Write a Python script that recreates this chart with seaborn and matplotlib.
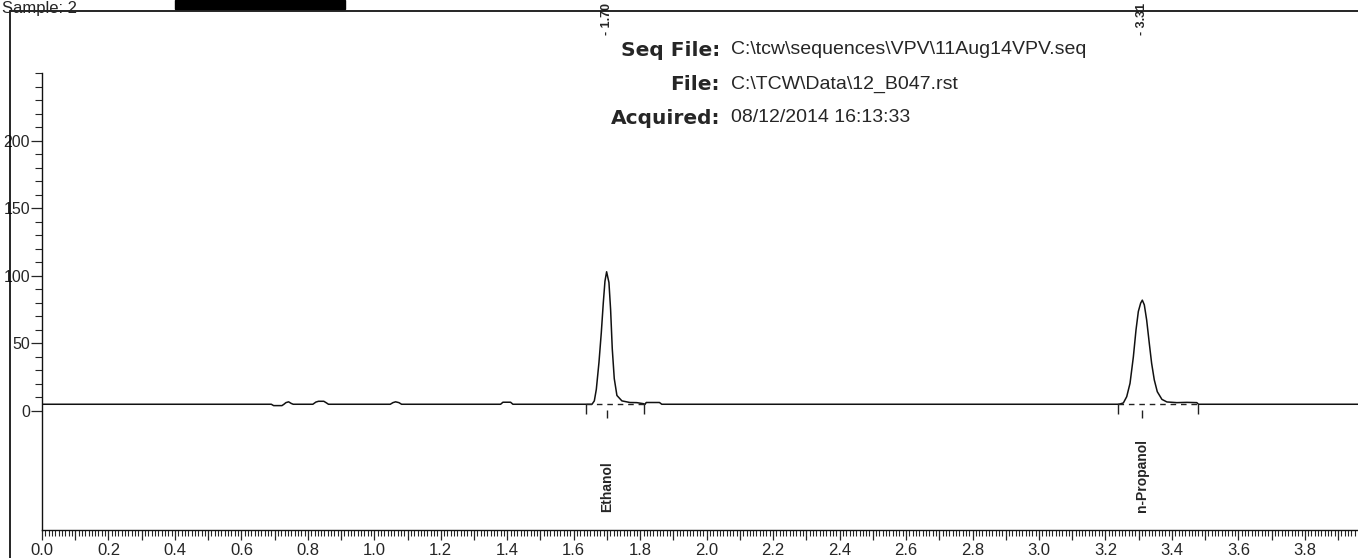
import numpy as np
import matplotlib
matplotlib.use('Agg')
import matplotlib.pyplot as plt
import matplotlib.transforms as mtransforms
from matplotlib.lines import Line2D
from matplotlib.patches import Rectangle
import seaborn as sns

# detector trace (minutes, mV)
trace_time = [0.000, 0.690, 0.697, 0.722, 0.728, 0.734, 0.742, 0.750, 0.756,
              0.815, 0.824, 0.832, 0.848, 0.856, 0.862,
              1.048, 1.056, 1.064, 1.074, 1.082,
              1.380, 1.387, 1.410, 1.417, 1.655,
              1.662, 1.668, 1.676, 1.683, 1.689, 1.694, 1.699, 1.706, 1.711,
              1.716, 1.722, 1.730, 1.745, 1.769, 1.790, 1.810, 1.815, 1.818,
              1.858, 1.865,
              3.236, 3.244, 3.254, 3.264, 3.274, 3.284, 3.292, 3.299, 3.306,
              3.311, 3.317, 3.324, 3.332, 3.339, 3.347, 3.356, 3.370, 3.385,
              3.415, 3.445, 3.475, 3.480, 3.960]
trace_signal = [5.0, 5.0, 4.0, 4.0, 5.0, 6.2, 6.8, 5.6, 5.0,
                5.0, 6.6, 7.2, 7.2, 6.0, 5.0,
                5.0, 6.2, 6.8, 6.2, 5.0,
                5.0, 6.5, 6.5, 5.0, 5.0,
                7.5, 16.0, 36.0, 58.0, 80.0, 96.0, 103.0, 95.0, 75.0,
                46.0, 24.0, 11.5, 7.5, 6.3, 6.2, 5.4, 5.0, 6.3,
                6.3, 5.0,
                5.0, 5.2, 6.0, 10.6, 20.5, 40.0, 60.0, 73.6, 79.8,
                82.0, 78.5, 67.4, 50.0, 35.3, 23.0, 14.3, 8.6, 6.7,
                6.2, 6.4, 6.2, 5.0, 5.0]

peak_names = ['Ethanol', 'n-Propanol']
peak_times = [1.70, 3.31]
peak_starts = [1.637, 3.239]
peak_ends = [1.812, 3.478]
baseline_level = 5.0

y_major = [0, 50, 100, 150, 200]
header_keys = ['Seq File:', 'File:', 'Acquired:']
header_values = ['C:\\tcw\\sequences\\VPV\\11Aug14VPV.seq',
                 'C:\\TCW\\Data\\12_B047.rst',
                 '08/12/2014 16:13:33']

W, H = 1358, 558
sns.set_style('ticks')
plt.rcParams['font.family'] = ['Liberation Sans Narrow', 'Liberation Sans', 'DejaVu Sans']

fig = plt.figure(figsize=(W / 100, H / 100), dpi=100)
ax = fig.add_axes([42 / W, 28 / H, 1316 / W, 457 / H])

sns.lineplot(x=trace_time, y=trace_signal, ax=ax, color='#111111',
             linewidth=1.1, estimator=None, sort=False)

# integration baselines and markers
for s, e, t in zip(peak_starts, peak_ends, peak_times):
    ax.plot([s, e], [baseline_level, baseline_level], color='#222222',
            lw=1.0, ls=(0, (4, 3.5)))
    ax.vlines([s, e], baseline_level - 7, baseline_level, color='#222222', lw=1.0)
    ax.vlines(t, -5, 0.5, color='#222222', lw=1.0)

ax.set_xlim(0, 3.96)
ax.set_ylim(-88, 250)
ax.set_xlabel('')
ax.set_ylabel('')
sns.despine(ax=ax)
for sp in ax.spines.values():
    sp.set_linewidth(1.0)
    sp.set_color('#111111')

ax.set_yticks(y_major)
ax.set_yticks(np.arange(0, 251, 10), minor=True)
xt = np.round(np.arange(0, 3.96, 0.1), 2)
ax.set_xticks(xt)
ax.set_xticklabels([f'{v:.1f}' if round(v * 10) % 2 == 0 else '' for v in xt])
ax.set_xticks(np.arange(0, 3.96, 0.01), minor=True)
ax.tick_params(axis='x', which='major', direction='out', length=7.5, width=0.9,
               pad=2, labelsize=12)
ax.tick_params(axis='x', which='minor', direction='out', length=4.5, width=0.8)
ax.tick_params(axis='y', which='major', direction='out', length=8, width=0.9,
               pad=0.5, labelsize=11.5)
ax.tick_params(axis='y', which='minor', direction='out', length=5, width=0.8)

# retention times above, compound names below
top_trans = mtransforms.blended_transform_factory(ax.transData, ax.transAxes)
for name, t in zip(peak_names, peak_times):
    ax.text(t, 1.083, f'- {t:.2f}', transform=top_trans, rotation=90,
            ha='center', va='bottom', fontsize=9, fontweight='bold',
            clip_on=False)
    ax.text(t, -75, name, rotation=90, ha='center', va='bottom', fontsize=10,
            fontweight='bold')

# header block
for i, (k, v) in enumerate(zip(header_keys, header_values)):
    y = 1 - (50 + 34 * i) / H
    fig.text(720 / W, y, k, ha='right', va='center', fontsize=14.5,
             fontweight='bold', family=['DejaVu Sans'])
    fig.text(731 / W, y, v, ha='left', va='center', fontsize=14,
             family=['Liberation Sans', 'DejaVu Sans'])

# page frame and title strip
fig.add_artist(Line2D([10 / W, 1], [1 - 11 / H, 1 - 11 / H],
                      transform=fig.transFigure, color='k', lw=1.2))
fig.add_artist(Line2D([10 / W, 10 / W], [0, 1 - 11 / H],
                      transform=fig.transFigure, color='k', lw=1.2))
fig.text(2 / W, 1 - 0.5 / H, 'Sample: 2', fontsize=12, va='top',
         family=['Liberation Sans', 'DejaVu Sans'])
fig.add_artist(Rectangle((175 / W, 1 - 9 / H), 170 / W, 9 / H,
                         transform=fig.transFigure, color='k'))

fig.savefig('out.png', dpi=100)
